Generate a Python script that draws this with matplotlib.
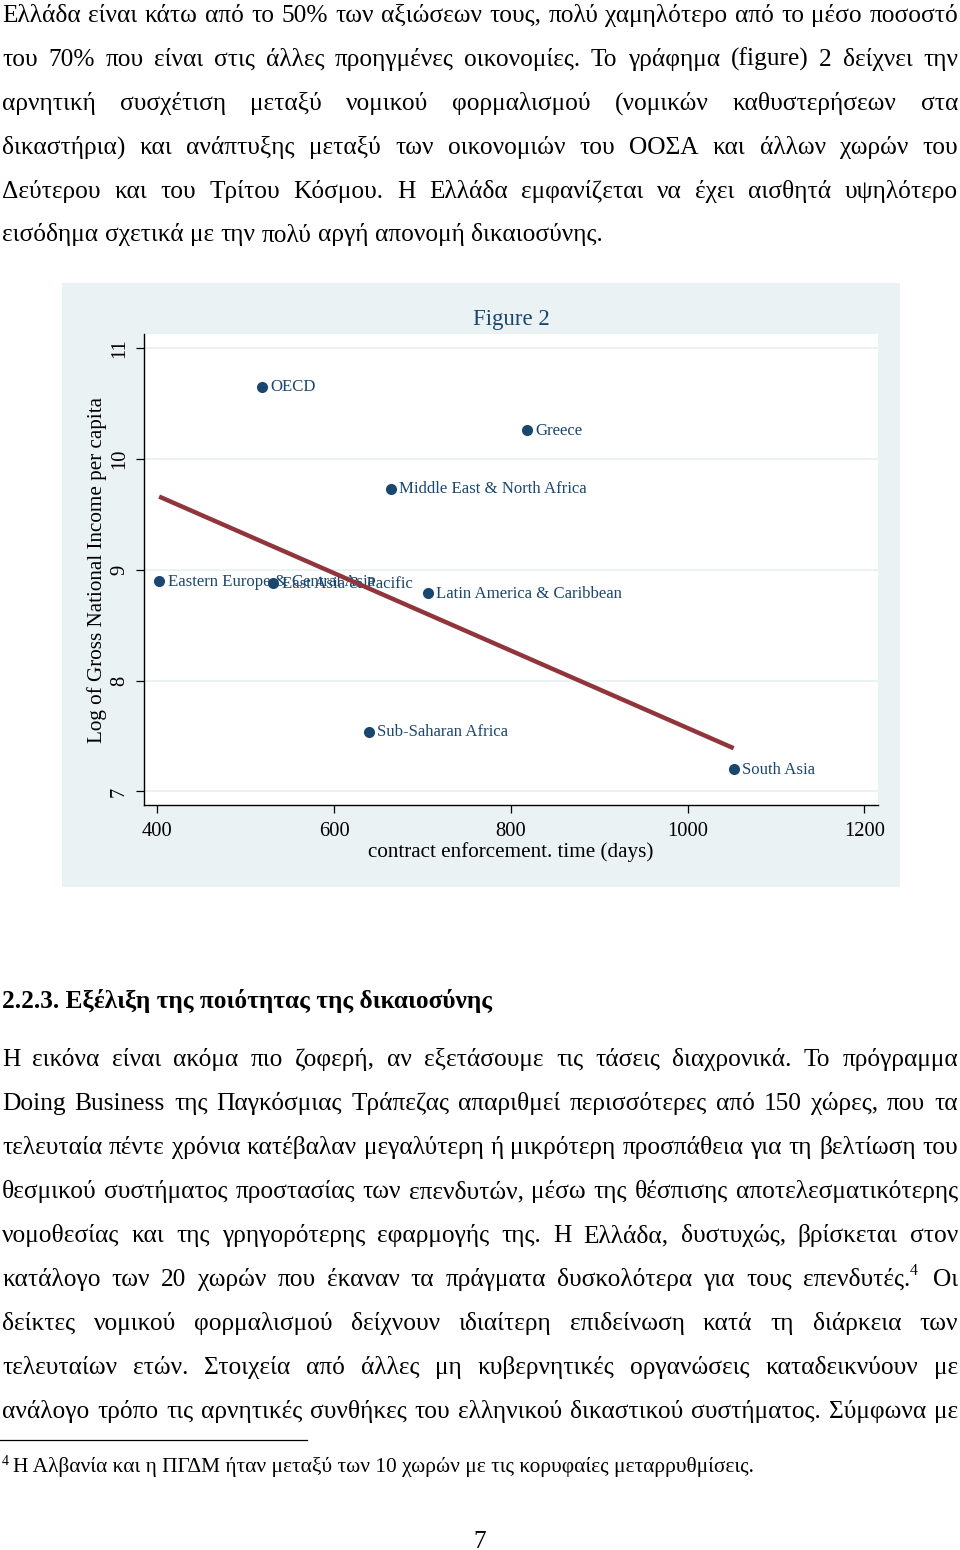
import matplotlib
matplotlib.use('Agg')
import matplotlib.pyplot as plt
from matplotlib.patches import Rectangle
from matplotlib.lines import Line2D

# ---------------- data ----------------
regions = ["OECD", "Greece", "Middle East & North Africa",
           "Eastern Europe & Central Asia", "East Asia & Pacific",
           "Latin America & Caribbean", "Sub-Saharan Africa", "South Asia"]
enforce_days = [518, 818, 664, 402, 531, 706, 639, 1052]
log_gni = [10.65, 10.26, 9.73, 8.90, 8.88, 8.79, 7.54, 7.20]
fit_days = [402, 1052]
fit_log_gni = [9.66, 7.39]
x_ticks = [400, 600, 800, 1000, 1200]
y_ticks = [7, 8, 9, 10, 11]

chart_title = "Figure 2"
x_label = "contract enforcement. time (days)"
y_label = "Log of Gross National Income per capita"

top_lines = [
    "Ελλάδα είναι κάτω από το 50% των αξιώσεων τους, πολύ χαμηλότερο από το μέσο ποσοστό",
    "του 70% που είναι στις άλλες προηγμένες οικονομίες. Το γράφημα (figure) 2 δείχνει την",
    "αρνητική συσχέτιση μεταξύ νομικού φορμαλισμού (νομικών καθυστερήσεων στα",
    "δικαστήρια) και ανάπτυξης μεταξύ των οικονομιών του ΟΟΣΑ και άλλων χωρών του",
    "Δεύτερου και του Τρίτου Κόσμου. Η Ελλάδα εμφανίζεται να έχει αισθητά υψηλότερο",
    "εισόδημα σχετικά με την πολύ αργή απονομή δικαιοσύνης.",
]
heading = "2.2.3. Εξέλιξη της ποιότητας της δικαιοσύνης"
para2_lines = [
    "Η εικόνα είναι ακόμα πιο ζοφερή, αν εξετάσουμε τις τάσεις διαχρονικά. Το πρόγραμμα",
    "Doing Business της Παγκόσμιας Τράπεζας απαριθμεί περισσότερες από 150 χώρες, που τα",
    "τελευταία πέντε χρόνια κατέβαλαν μεγαλύτερη ή μικρότερη προσπάθεια για τη βελτίωση του",
    "θεσμικού συστήματος προστασίας των επενδυτών, μέσω της θέσπισης αποτελεσματικότερης",
    "νομοθεσίας και της γρηγορότερης εφαρμογής της. Η Ελλάδα, δυστυχώς, βρίσκεται στον",
    "κατάλογο των 20 χωρών που έκαναν τα πράγματα δυσκολότερα για τους επενδυτές.^4 Οι",
    "δείκτες νομικού φορμαλισμού δείχνουν ιδιαίτερη επιδείνωση κατά τη διάρκεια των",
    "τελευταίων ετών. Στοιχεία από άλλες μη κυβερνητικές οργανώσεις καταδεικνύουν με",
    "ανάλογο τρόπο τις αρνητικές συνθήκες του ελληνικού δικαστικού συστήματος. Σύμφωνα με",
]
footnote_mark = "4"
footnote = "Η Αλβανία και η ΠΓΔΜ ήταν μεταξύ των 10 χωρών με τις κορυφαίες μεταρρυθμίσεις."
page_number = "7"

# ---------------- style ----------------
W, H = 960, 1550
SERIF = ['Liberation Serif', 'DejaVu Serif']
plt.rcParams['font.family'] = SERIF
NAVY = '#1a476f'
MAROON = '#90353b'
PANEL = '#eaf2f3'

fig = plt.figure(figsize=(W / 100, H / 100), dpi=100)
fig.patch.set_facecolor('white')
renderer = fig.canvas.get_renderer()


def fx(px):
    return px / W


def fy(py):
    return 1 - py / H


def measure(s, size, weight='normal'):
    t = fig.text(0, 0, s, fontsize=size, fontweight=weight, family=SERIF)
    w = t.get_window_extent(renderer).width
    t.remove()
    return w


# calibrate body font size to the reference line width
BODY = 18.0 * 601 / measure(top_lines[-1], 18.0)
SUP = BODY * 0.62
LEFT, RIGHT = 2, 958


def draw_justified(line, y_base, size, justify=True, weight='normal'):
    words = line.split(' ')
    segs = []
    widths = []
    for w in words:
        if '^' in w:
            main, sup = w.split('^')
            wm = measure(main, size, weight)
            ws = measure(sup, SUP)
            segs.append([(main, size, 0, 0), (sup, SUP, wm, 0.45 * size * 100 / 72)])
            widths.append(wm + ws + measure(' ', size) * 0.6)
        else:
            segs.append([(w, size, 0, 0)])
            widths.append(measure(w, size, weight))
    total = sum(widths)
    if justify and len(words) > 1:
        gap = (RIGHT - LEFT - total) / (len(words) - 1)
    else:
        gap = measure('a a', size, weight) - measure('aa', size, weight)
    x = LEFT
    for seg, wd in zip(segs, widths):
        for (s, sz, dx, rise) in seg:
            fig.text(fx(x + dx), fy(y_base - rise), s, fontsize=sz,
                     fontweight=weight, ha='left', va='baseline', color='black')
        x += wd + gap


# ---------------- top paragraph ----------------
for i, ln in enumerate(top_lines):
    draw_justified(ln, 22 + i * 43.9, BODY, justify=(i < len(top_lines) - 1))

# ---------------- chart panel ----------------
fig.add_artist(Rectangle((fx(62), fy(887)), fx(900) - fx(62), fy(283) - fy(887),
                         transform=fig.transFigure, facecolor=PANEL,
                         edgecolor='none', zorder=-1))

ax = fig.add_axes([fx(144), fy(805), (878 - 144) / W, (805 - 334) / H])
ax.set_facecolor('white')
ax.set_xlim(384.9, 1215.3)
ax.set_ylim(6.878, 11.126)
ax.set_xticks(x_ticks)
ax.set_yticks(y_ticks)
ax.set_xticklabels([str(v) for v in x_ticks])
ax.set_yticklabels([str(v) for v in y_ticks])
for side in ['top', 'right']:
    ax.spines[side].set_visible(False)
for side in ['left', 'bottom']:
    ax.spines[side].set_color('black')
    ax.spines[side].set_linewidth(1.0)
ax.tick_params(axis='both', direction='out', length=5.8, width=0.9,
               color='black', labelsize=14.8, labelcolor='black')
ax.tick_params(axis='x', pad=6.5)
ax.tick_params(axis='y', pad=5, labelrotation=90)
for lbl in ax.get_yticklabels():
    lbl.set_verticalalignment('center')
ax.yaxis.grid(True, color=PANEL, lw=1.4)
ax.xaxis.grid(False)
ax.set_axisbelow(True)

ax.scatter(enforce_days, log_gni, s=8.0 ** 2, color=NAVY, zorder=3, linewidths=0)
for name, xd, yd in zip(regions, enforce_days, log_gni):
    ax.annotate(name, (xd, yd), xytext=(6.2, -0.5), textcoords='offset points',
                ha='left', va='center', fontsize=12.1, color=NAVY, zorder=3)
ax.plot(fit_days, fit_log_gni, color=MAROON, lw=3.2, solid_capstyle='butt', zorder=5)

ax.set_xlabel(x_label, fontsize=15.2, color='black')
ax.xaxis.set_label_coords(0.5, (805 - 842) / 471)
ax.set_ylabel(y_label, fontsize=15.2, color='black')
ax.yaxis.set_label_coords((107 - 144) / 734, 0.5)

fig.text(fx(511), fy(319), chart_title, fontsize=16.5, color=NAVY,
         ha='center', va='center')

# ---------------- heading and second paragraph ----------------
fig.text(fx(LEFT), fy(1008), heading, fontsize=BODY, fontweight='bold',
         ha='left', va='baseline', color='black')
for i, ln in enumerate(para2_lines):
    draw_justified(ln, 1066 + i * 44.0, BODY, justify=True)

# footnote rule and footnote
fig.add_artist(Line2D([fx(0), fx(307)], [fy(1440), fy(1440)],
                      transform=fig.transFigure, color='black', lw=0.9))
FOOT = BODY * 10 / 12 * 1.01
fig.text(fx(LEFT), fy(1465), footnote_mark, fontsize=FOOT * 0.65,
         ha='left', va='baseline', color='black')
fig.text(fx(13), fy(1472), footnote, fontsize=FOOT,
         ha='left', va='baseline', color='black')

fig.text(fx(480), fy(1548), page_number, fontsize=BODY,
         ha='center', va='baseline', color='black')

fig.savefig('out.png', dpi=100, facecolor='white')
